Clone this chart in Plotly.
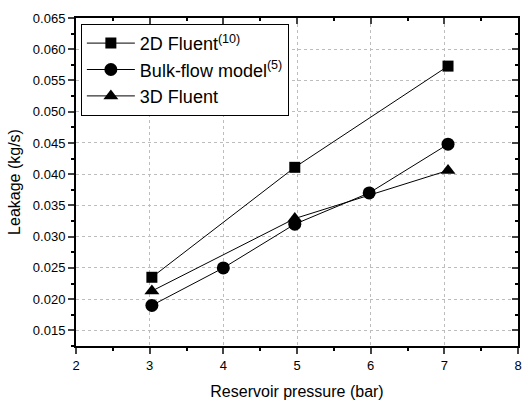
import plotly.graph_objects as go

# Data
x_2d = [3.03, 4.97, 7.05]
y_2d = [0.0235, 0.0411, 0.0573]
x_bulk = [3.03, 4.0, 4.97, 5.98, 7.05]
y_bulk = [0.0190, 0.0250, 0.0320, 0.0370, 0.0448]
x_3d = [3.03, 4.97, 7.05]
y_3d = [0.0213, 0.0329, 0.0406]

names = ["2D Fluent<sup>(10)</sup>", "Bulk-flow model<sup>(5)</sup>", "3D Fluent"]

FONT = "Liberation Sans, Arial, sans-serif"

fig = go.Figure()
fig.add_trace(go.Scatter(x=x_2d, y=y_2d, name=names[0], mode="lines+markers",
                         line=dict(color="black", width=1),
                         marker=dict(symbol="square", size=11, color="black")))
fig.add_trace(go.Scatter(x=x_bulk, y=y_bulk, name=names[1], mode="lines+markers",
                         line=dict(color="black", width=1),
                         marker=dict(symbol="circle", size=13, color="black")))
fig.add_trace(go.Scatter(x=x_3d, y=y_3d, name=names[2], mode="lines+markers",
                         line=dict(color="black", width=1),
                         marker=dict(symbol="triangle-up", size=13, color="black")))

grid = dict(showgrid=True, gridcolor="#bdbdbd", griddash="dot", gridwidth=1)

fig.update_layout(
    width=527, height=403,
    margin=dict(l=76, r=5, t=18, b=51),
    paper_bgcolor="white", plot_bgcolor="white",
    font=dict(family=FONT, color="black", size=13),
    showlegend=True,
    legend=dict(x=0.011, y=0.982, xanchor="left", yanchor="top",
                bordercolor="black", borderwidth=1, bgcolor="white",
                itemwidth=48,
                font=dict(size=18, family=FONT, color="black"), tracegroupgap=0),
    xaxis=dict(range=[2, 8], dtick=1, tick0=2, ticks="outside", ticklen=6,
               tickwidth=1.5, linecolor="black", linewidth=2, showline=True,
               mirror=True, zeroline=False,
               minor=dict(dtick=0.5, ticks="outside", ticklen=3, tickcolor="black", showgrid=False),
               tickfont=dict(size=13),
               title=dict(text="Reservoir pressure (bar)", font=dict(size=16), standoff=14),
               **grid),
    yaxis=dict(range=[0.0125, 0.065], dtick=0.005, tick0=0, tickformat=".3f",
               ticks="outside", ticklen=6, tickwidth=1.5,
               linecolor="black", linewidth=2, showline=True, mirror=True, zeroline=False,
               minor=dict(dtick=0.0025, ticks="outside", ticklen=3, tickcolor="black", showgrid=False),
               tickfont=dict(size=13),
               title=dict(text="Leakage (kg/s)", font=dict(size=16), standoff=8),
               **grid),
    xaxis2=dict(range=[2, 8], dtick=1, tick0=2, overlaying="x", side="top",
                ticks="inside", ticklen=6, tickwidth=1.5, showticklabels=False,
                showgrid=False, zeroline=False,
                minor=dict(dtick=0.5, ticks="inside", ticklen=3, tickcolor="black")),
    yaxis2=dict(range=[0.0125, 0.065], dtick=0.005, tick0=0, overlaying="y", side="right",
                ticks="inside", ticklen=6, tickwidth=1.5, showticklabels=False,
                showgrid=False, zeroline=False,
                minor=dict(dtick=0.0025, ticks="inside", ticklen=3, tickcolor="black")),
)

# invisible trace to activate the mirrored tick axes
fig.add_trace(go.Scatter(x=[None], y=[None], xaxis="x2", yaxis="y2",
                         showlegend=False, hoverinfo="skip"))

fig.write_html("out.html")
